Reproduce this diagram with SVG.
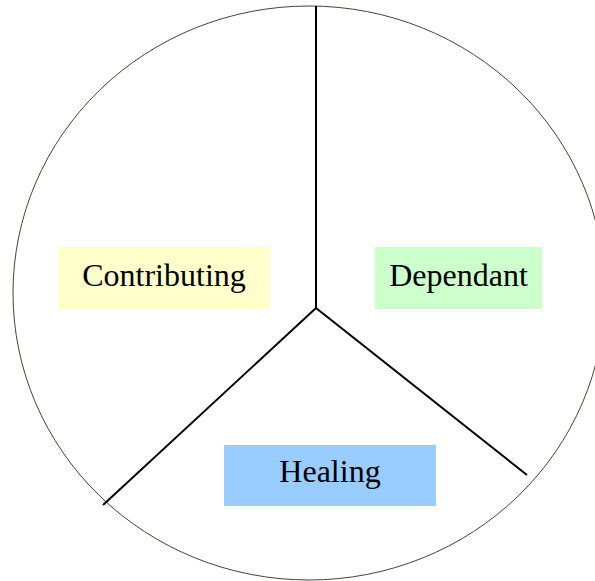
<svg xmlns="http://www.w3.org/2000/svg" width="595" height="581" viewBox="0 0 595 581">
<style>
.lbl{font-family:"Liberation Serif","Times New Roman",serif;font-size:32px;fill:#000;text-anchor:middle}
.spoke{stroke:#000;stroke-width:2;fill:none}
</style>
<rect width="595" height="581" fill="#fff"/>
<g id="outline">
<ellipse cx="309" cy="293" rx="296" ry="287" fill="none" stroke="#44443a" stroke-width="1"/>
</g>
<g id="connectors">
<line class="spoke" x1="316" y1="6" x2="316" y2="308"/>
<line class="spoke" x1="316" y1="308" x2="103" y2="505"/>
<line class="spoke" x1="316" y1="308" x2="527" y2="475"/>
</g>
<g id="contributing">
<rect x="58" y="247" width="212" height="62" fill="#ffffcc"/>
<text class="lbl" x="164" y="286">Contributing</text>
</g>
<g id="dependant">
<rect x="375" y="247" width="167" height="62" fill="#ccffcc"/>
<text class="lbl" x="458.5" y="286">Dependant</text>
</g>
<g id="healing">
<rect x="224" y="445" width="212" height="61" fill="#99ccff"/>
<text class="lbl" x="330" y="482">Healing</text>
</g>
</svg>
